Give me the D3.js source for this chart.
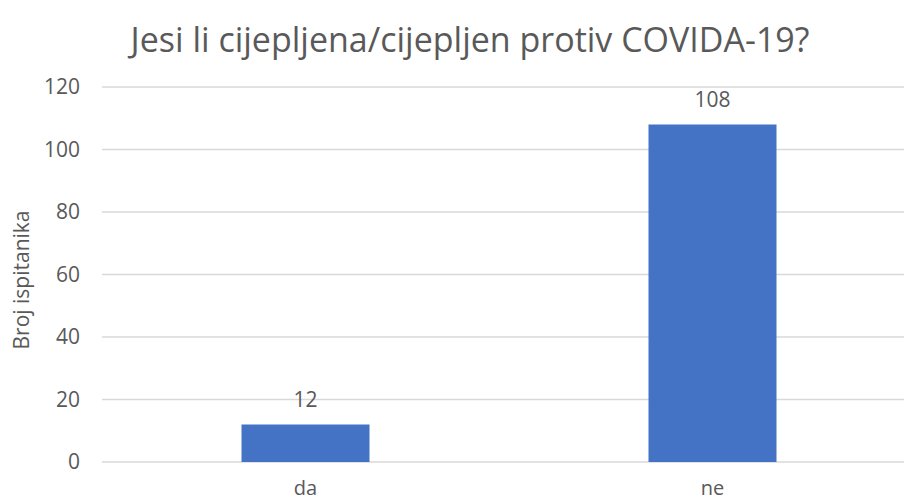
<!DOCTYPE html>
<html>
<head>
<meta charset="utf-8">
<script src="https://d3js.org/d3.v7.min.js"></script>
<style>
  body { margin: 0; background: #fff; }
  svg text { font-family: "Open Sans", "Noto Sans", sans-serif; fill: #595959; }
</style>
</head>
<body>
<svg id="chart" width="904" height="502"></svg>
<script>
  // data
  var categories = ["da", "ne"];
  var counts = [12, 108];
  var yTicks = [0, 20, 40, 60, 80, 100, 120];
  var title = "Jesi li cijepljena/cijepljen protiv COVIDA-19?";
  var yLabel = "Broj ispitanika";

  var svg = d3.select("#chart");

  var x = d3.scaleBand()
    .domain(categories)
    .range([102, 916])
    .paddingInner(0.6855)
    .paddingOuter(0.6855 / 2);

  var y = d3.scaleLinear().domain([0, 120]).range([462, 87]);

  // gridlines
  svg.append("g")
    .selectAll("line").data(yTicks).enter().append("line")
    .attr("x1", 102).attr("x2", 904)
    .attr("y1", function (d) { return y(d); })
    .attr("y2", function (d) { return y(d); })
    .attr("stroke", "#d9d9d9")
    .attr("stroke-width", 1.3);

  // y axis labels
  var yAxis = svg.append("g")
    .attr("transform", "translate(92,0)")
    .call(d3.axisLeft(y).tickValues(yTicks).tickSize(0).tickPadding(12));
  yAxis.select(".domain").remove();
  yAxis.selectAll("text").attr("font-size", 21).attr("fill", "#595959")
    .attr("font-family", "Open Sans, sans-serif");

  // bars
  svg.append("g")
    .selectAll("rect").data(counts).enter().append("rect")
    .attr("x", function (d, i) { return x(categories[i]); })
    .attr("width", x.bandwidth())
    .attr("y", function (d) { return y(d); })
    .attr("height", function (d) { return y(0) - y(d); })
    .attr("fill", "#4472c4");

  // data labels
  svg.append("g")
    .selectAll("text").data(counts).enter().append("text")
    .attr("x", function (d, i) { return x(categories[i]) + x.bandwidth() / 2; })
    .attr("y", function (d) { return y(d) - 18; })
    .attr("text-anchor", "middle")
    .attr("font-size", 21)
    .attr("fill", "#404040")
    .text(function (d) { return d; });

  // category labels
  svg.append("g")
    .selectAll("text").data(categories).enter().append("text")
    .attr("x", function (d) { return x(d) + x.bandwidth() / 2; })
    .attr("y", 495)
    .attr("text-anchor", "middle")
    .attr("font-size", 20)
    .text(function (d) { return d; });

  // title
  svg.append("text")
    .attr("x", 470).attr("y", 52)
    .attr("text-anchor", "middle")
    .attr("font-size", 34)
    .text(title);

  // y axis title
  svg.append("text")
    .attr("transform", "translate(29,280) rotate(-90)")
    .attr("text-anchor", "middle")
    .attr("font-size", 21)
    .text(yLabel);
</script>
</body>
</html>
